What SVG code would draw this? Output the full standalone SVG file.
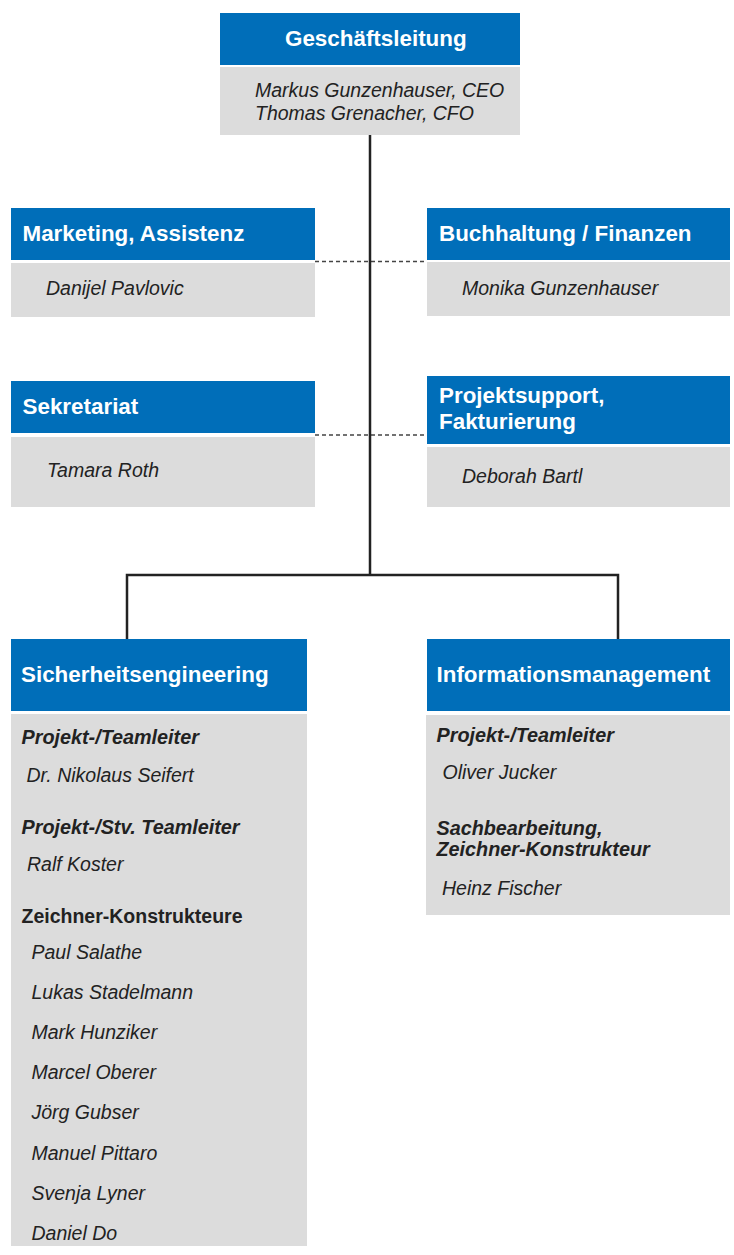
<svg xmlns="http://www.w3.org/2000/svg" width="734" height="1255" viewBox="0 0 734 1255">
<style>
.hd{fill:#006EB9}
.bd{fill:#DCDCDC}
.t{font-family:"Liberation Sans",Arial,sans-serif;font-weight:bold;font-size:22.4px;fill:#fff}
.n{font-family:"Liberation Sans",Arial,sans-serif;font-style:italic;font-size:19.5px;fill:#222}
.r{font-family:"Liberation Sans",Arial,sans-serif;font-style:italic;font-weight:bold;font-size:19.8px;fill:#222}
.z{font-family:"Liberation Sans",Arial,sans-serif;font-weight:bold;font-size:19.5px;fill:#222}
.solid{stroke:#222;stroke-width:2.5;fill:none}
.dash{stroke:#444;stroke-width:1.3;stroke-dasharray:4 3;fill:none}
</style>
<rect width="734" height="1255" fill="#fff"/>
<g id="connectors">
<line class="dash" x1="315" y1="261.5" x2="427" y2="261.5"/>
<line class="dash" x1="315" y1="435" x2="427" y2="435"/>
<line class="solid" x1="370" y1="135" x2="370" y2="575"/>
<polyline class="solid" points="127,639 127,575 618,575 618,639"/>
</g>
<g id="geschaeftsleitung">
<rect class="hd" x="220" y="13" width="300" height="52"/>
<rect class="bd" x="220" y="67" width="300" height="68"/>
<text class="t" x="285" y="46">Geschäftsleitung</text>
<text class="n" x="255" y="97">Markus Gunzenhauser, CEO</text>
<text class="n" x="255" y="120">Thomas Grenacher, CFO</text>
</g>
<g id="marketing">
<rect class="hd" x="11" y="208" width="304" height="52"/>
<rect class="bd" x="11" y="263" width="304" height="54"/>
<text class="t" x="22.5" y="241">Marketing, Assistenz</text>
<text class="n" x="46" y="295">Danijel Pavlovic</text>
</g>
<g id="buchhaltung">
<rect class="hd" x="427" y="208" width="303" height="52"/>
<rect class="bd" x="427" y="262" width="303" height="54"/>
<text class="t" x="439" y="241">Buchhaltung / Finanzen</text>
<text class="n" x="462" y="295">Monika Gunzenhauser</text>
</g>
<g id="sekretariat">
<rect class="hd" x="11" y="381" width="304" height="52"/>
<rect class="bd" x="11" y="437" width="304" height="70"/>
<text class="t" x="22.5" y="413.5">Sekretariat</text>
<text class="n" x="47" y="477">Tamara Roth</text>
</g>
<g id="projektsupport">
<rect class="hd" x="427" y="376" width="303" height="68"/>
<rect class="bd" x="427" y="447" width="303" height="60"/>
<text class="t" x="439" y="403">Projektsupport,</text>
<text class="t" x="439" y="429">Fakturierung</text>
<text class="n" x="462" y="483">Deborah Bartl</text>
</g>
<g id="sicherheitsengineering">
<rect class="hd" x="11" y="639" width="296" height="72"/>
<rect class="bd" x="11" y="714" width="296" height="532"/>
<text class="t" x="21" y="682">Sicherheitsengineering</text>
<text class="r" x="21.5" y="743.5">Projekt-/Teamleiter</text>
<text class="n" x="26.5" y="782">Dr. Nikolaus Seifert</text>
<text class="r" x="21.5" y="833.5">Projekt-/Stv. Teamleiter</text>
<text class="n" x="27" y="871">Ralf Koster</text>
<text class="z" x="21.5" y="922.5">Zeichner-Konstrukteure</text>
<text class="n" x="31.5" y="958.5">Paul Salathe</text>
<text class="n" x="31.5" y="999">Lukas Stadelmann</text>
<text class="n" x="31.5" y="1039">Mark Hunziker</text>
<text class="n" x="31.5" y="1079">Marcel Oberer</text>
<text class="n" x="31.5" y="1119">Jörg Gubser</text>
<text class="n" x="31.5" y="1159.5">Manuel Pittaro</text>
<text class="n" x="31.5" y="1199.5">Svenja Lyner</text>
<text class="n" x="31.5" y="1239.5">Daniel Do</text>
</g>
<g id="informationsmanagement">
<rect class="hd" x="427" y="639" width="303" height="72"/>
<rect class="bd" x="426" y="715" width="304" height="200"/>
<text class="t" x="436.5" y="682">Informationsmanagement</text>
<text class="r" x="436.5" y="742">Projekt-/Teamleiter</text>
<text class="n" x="442.5" y="778.5">Oliver Jucker</text>
<text class="r" x="436.5" y="835">Sachbearbeitung,</text>
<text class="r" x="436.5" y="856">Zeichner-Konstrukteur</text>
<text class="n" x="442" y="895">Heinz Fischer</text>
</g>
</svg>
